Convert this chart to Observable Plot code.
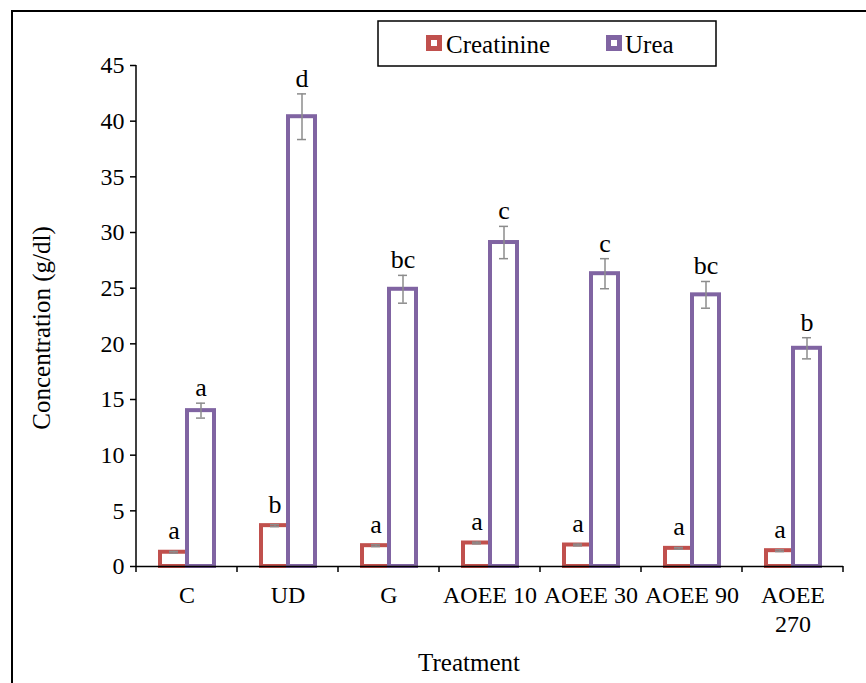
<!DOCTYPE html>
<html>
<head>
<meta charset="utf-8">
<script src="https://cdn.jsdelivr.net/npm/d3@7"></script>
<script src="https://cdn.jsdelivr.net/npm/@observablehq/plot@0.6"></script>
<style>
  html, body { margin: 0; padding: 0; background: #fff; }
  #chart { width: 866px; height: 683px; }
</style>
</head>
<body>
<div id="chart"></div>
<script>
// ---- data ----
const categories = ["C", "UD", "G", "AOEE 10", "AOEE 30", "AOEE 90", "AOEE 270"];
const seriesNames = ["Creatinine", "Urea"];
const creatinine = [1.28, 3.67, 1.87, 2.11, 1.93, 1.63, 1.42];
const creatinineErr = [0.08, 0.09, 0.08, 0.08, 0.08, 0.08, 0.08];
const creatinineLetters = ["a", "b", "a", "a", "a", "a", "a"];
const urea = [14.0, 40.4, 24.9, 29.1, 26.3, 24.4, 19.6];
const ureaErr = [0.67, 2.05, 1.25, 1.45, 1.35, 1.2, 0.95];
const ureaLetters = ["a", "d", "bc", "c", "c", "bc", "b"];
const yTicks = [0, 5, 10, 15, 20, 25, 30, 35, 40, 45];
const yTitle = "Concentration (g/dl)";
const xTitle = "Treatment";
const colors = ["#C0504D", "#8064A2"];

const rows = categories.flatMap((c, i) => [
  {cat: c, series: "Creatinine", value: creatinine[i], err: creatinineErr[i], letter: creatinineLetters[i]},
  {cat: c, series: "Urea", value: urea[i], err: ureaErr[i], letter: ureaLetters[i]}
]);
const creatRows = rows.filter(d => d.series === "Creatinine");
const ureaRows = rows.filter(d => d.series === "Urea");

const errColor = "#8c8c8c";
const FONT = "'Liberation Serif', 'Times New Roman', serif";

const chart = Plot.plot({
  width: 866,
  height: 683,
  marginLeft: 133,
  marginRight: 21,
  marginTop: 65,
  marginBottom: 117,
  style: {fontFamily: FONT, fontSize: "24px", color: "#000", background: "#fff", overflow: "visible"},
  fx: {domain: categories, paddingInner: 0, paddingOuter: 0},
  x: {domain: seriesNames, paddingInner: 0, paddingOuter: 0.83, axis: null},
  y: {domain: [0, 45], axis: null},
  color: {domain: seriesNames, range: colors},
  marks: [
    Plot.barY(rows, {fx: "cat", x: "series", y: "value", fill: "#fff", stroke: "series", strokeWidth: 4}),
    Plot.ruleY([0], {stroke: "#000", strokeWidth: 1.5}),
    Plot.ruleX(rows, {fx: "cat", x: "series", y1: d => d.value - d.err, y2: d => d.value + d.err, stroke: errColor, strokeWidth: 1.5}),
    Plot.tickY(rows, {fx: "cat", x: "series", y: d => d.value - d.err, stroke: errColor, strokeWidth: 1.5, insetLeft: 9, insetRight: 9}),
    Plot.tickY(rows, {fx: "cat", x: "series", y: d => d.value + d.err, stroke: errColor, strokeWidth: 1.5, insetLeft: 9, insetRight: 9}),
    Plot.text(ureaRows, {fx: "cat", x: "series", y: d => d.value + d.err, text: "letter", dy: -7, fontSize: 26, lineAnchor: "bottom", fill: "#000"}),
    Plot.text(creatRows, {fx: "cat", x: "series", y: d => d.value + d.err, text: "letter", dy: -12, fontSize: 26, lineAnchor: "bottom", fill: "#000"}),
    Plot.axisY({ticks: yTicks, tickSize: 6, tickPadding: 6, strokeWidth: 1.5, label: null}),
    Plot.axisFx({anchor: "bottom", tickSize: 0, tickPadding: 16, lineHeight: 1.2, tickFormat: d => d === "AOEE 270" ? "AOEE\n270" : d, label: null})
  ]
});

document.getElementById("chart").appendChild(chart);

// ---- post-render decorations using the plot's own scales ----
const svg = d3.select(chart);
const fx = chart.scale("fx");
const y = chart.scale("y");
const col = chart.scale("color");
const x0 = fx.apply(categories[0]);
const bounds = categories.map(c => fx.apply(c)).concat([fx.apply(categories[categories.length - 1]) + fx.bandwidth]);

// y axis line
svg.append("line")
  .attr("x1", x0).attr("x2", x0)
  .attr("y1", y.apply(0)).attr("y2", y.apply(45))
  .attr("stroke", "#000").attr("stroke-width", 1.5);

// category boundary ticks (Excel style)
svg.append("g").selectAll("line").data(bounds).join("line")
  .attr("x1", d => d).attr("x2", d => d)
  .attr("y1", y.apply(0)).attr("y2", y.apply(0) + 6)
  .attr("stroke", "#000").attr("stroke-width", 1.5);

// axis titles
svg.append("text")
  .attr("transform", "translate(50,328) rotate(-90)")
  .attr("text-anchor", "middle").attr("font-family", FONT).attr("font-size", 25)
  .text(yTitle);
svg.append("text")
  .attr("x", 469).attr("y", 670.5)
  .attr("text-anchor", "middle").attr("font-family", FONT).attr("font-size", 25)
  .text(xTitle);

// outer frame (top and left edges visible)
svg.append("rect")
  .attr("x", 12).attr("y", 11).attr("width", 900).attr("height", 700)
  .attr("fill", "none").attr("stroke", "#000").attr("stroke-width", 2);

// legend
const lg = svg.append("g").attr("font-family", FONT).attr("font-size", 25).attr("text-anchor", "start");
lg.append("rect").attr("x", 378).attr("y", 21).attr("width", 338).attr("height", 45)
  .attr("fill", "#fff").attr("stroke", "#000").attr("stroke-width", 1.5);
const legendItems = [{name: seriesNames[0], sx: 426, tx: 446}, {name: seriesNames[1], sx: 606, tx: 625}];
legendItems.forEach(it => {
  lg.append("rect").attr("x", it.sx + 2.5).attr("y", 37.5).attr("width", 11).attr("height", 11)
    .attr("fill", "#fff").attr("stroke", col.apply(it.name)).attr("stroke-width", 5);
  lg.append("text").attr("x", it.tx).attr("y", 52.5).attr("text-anchor", "start").text(it.name);
});
</script>
</body>
</html>
